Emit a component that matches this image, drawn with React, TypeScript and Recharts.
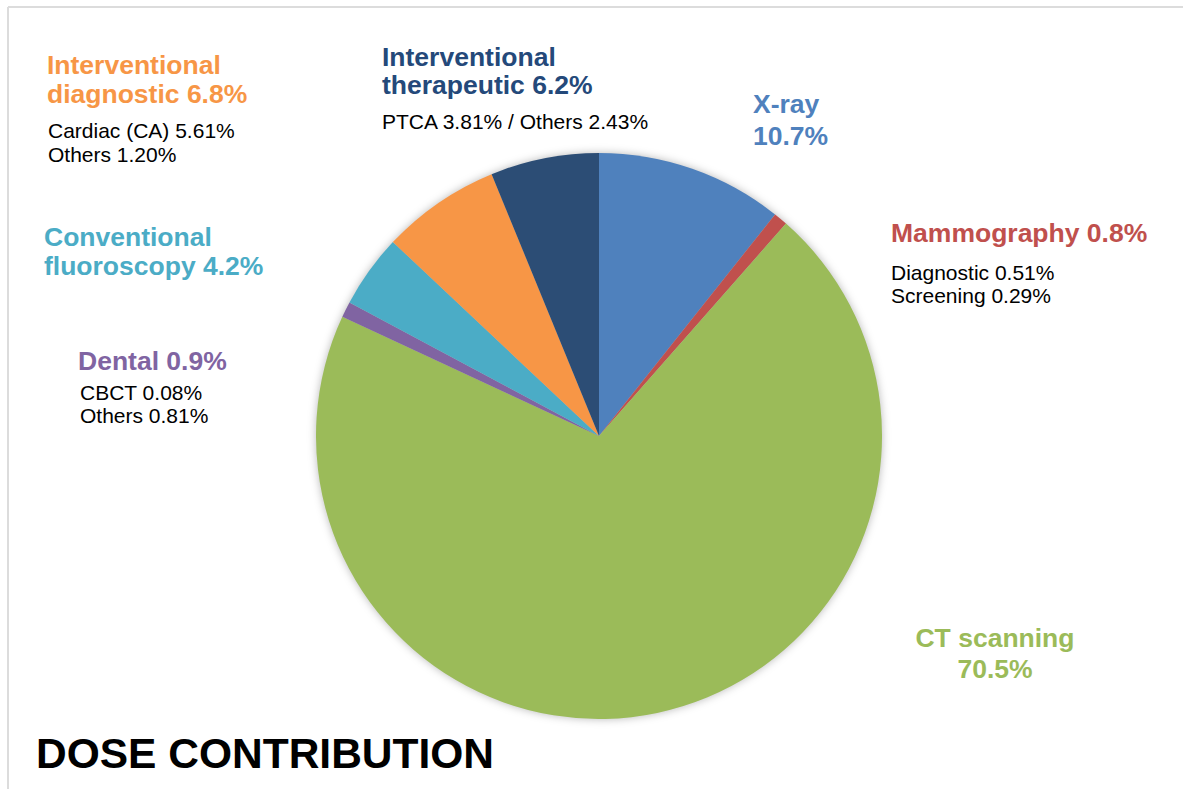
import React from "react";
import { PieChart, Pie, Cell } from "recharts";

const categories = [
  "X-ray",
  "Mammography",
  "CT scanning",
  "Dental",
  "Conventional fluoroscopy",
  "Interventional diagnostic",
  "Interventional therapeutic",
];
const shares = [10.7, 0.8, 70.5, 0.9, 4.2, 6.8, 6.2];
const colors = ["#4F81BD", "#C0504D", "#9BBB59", "#8064A2", "#4BACC6", "#F79646", "#2C4D75"];

const titleLines = [
  ["X-ray", "10.7%"],
  ["Mammography 0.8%"],
  ["CT scanning", "70.5%"],
  ["Dental 0.9%"],
  ["Conventional", "fluoroscopy 4.2%"],
  ["Interventional", "diagnostic 6.8%"],
  ["Interventional", "therapeutic 6.2%"],
];
const detailLines = [
  [],
  ["Diagnostic 0.51%", "Screening 0.29%"],
  [],
  ["CBCT 0.08%", "Others 0.81%"],
  [],
  ["Cardiac (CA) 5.61%", "Others 1.20%"],
  ["PTCA 3.81% / Others 2.43%"],
];
const chartTitle = "DOSE CONTRIBUTION";

const data = categories.map((name, i) => ({ name, value: shares[i] }));

// label layout: [x, titleBaseline, titleLineGap, detailBaseline, detailLineGap, anchor, detailX]
const layout: Array<[number, number, number, number, number, "start" | "middle", number]> = [
  [753, 113, 32, 0, 0, "start", 753],
  [891, 242, 29, 280, 23, "start", 891],
  [995, 647, 31, 0, 0, "middle", 995],
  [78, 370, 29, 400, 23, "start", 80],
  [44, 246, 29, 0, 0, "start", 44],
  [47, 74, 29, 138, 24, "start", 48],
  [382, 66, 28, 129, 24, "start", 382],
];

const FONT = "'Liberation Sans', Arial, Helvetica, sans-serif";

export default function App() {
  return (
    <div style={{ position: "absolute", left: 0, top: 0, width: 1183, height: 789, background: "#fff" }}>
      <style>{`.recharts-pie { filter: drop-shadow(0px 0px 4px rgba(0,0,0,0.28)); }`}</style>
      <PieChart width={1183} height={789} margin={{ top: 0, right: 0, bottom: 0, left: 0 }}>
        <Pie
          data={data}
          dataKey="value"
          nameKey="name"
          cx={599}
          cy={436}
          outerRadius={283}
          innerRadius={0}
          startAngle={90}
          endAngle={-270}
          stroke="none"
          isAnimationActive={false}
          label={false}
          labelLine={false}
        >
          {data.map((d, i) => (
            <Cell key={d.name} fill={colors[i]} stroke="none" />
          ))}
        </Pie>
      </PieChart>
      <svg
        width={1183}
        height={789}
        style={{ position: "absolute", left: 0, top: 0, pointerEvents: "none" }}
      >
        <line x1={8} y1={7} x2={1183} y2={7} stroke="#dcdcdc" strokeWidth={2} />
        <line x1={8} y1={7} x2={8} y2={789} stroke="#dcdcdc" strokeWidth={2} />
        {categories.map((c, i) => {
          const [x, tb, tg, db, dg, anchor, dx] = layout[i];
          return (
            <g key={c} fontFamily={FONT}>
              {titleLines[i].map((t, j) => (
                <text
                  key={"t" + j}
                  x={x}
                  y={tb + j * tg}
                  fill={colors[i] === "#2C4D75" ? "#24497A" : colors[i]}
                  fontSize={26.5}
                  fontWeight="bold"
                  textAnchor={anchor}
                >
                  {t}
                </text>
              ))}
              {detailLines[i].map((t, j) => (
                <text key={"d" + j} x={dx} y={db + j * dg} fill="#000" fontSize={21} textAnchor="start">
                  {t}
                </text>
              ))}
            </g>
          );
        })}
        <text x={36} y={768} fontFamily={FONT} fontSize={42.5} fontWeight="bold" fill="#000">
          {chartTitle}
        </text>
      </svg>
    </div>
  );
}
